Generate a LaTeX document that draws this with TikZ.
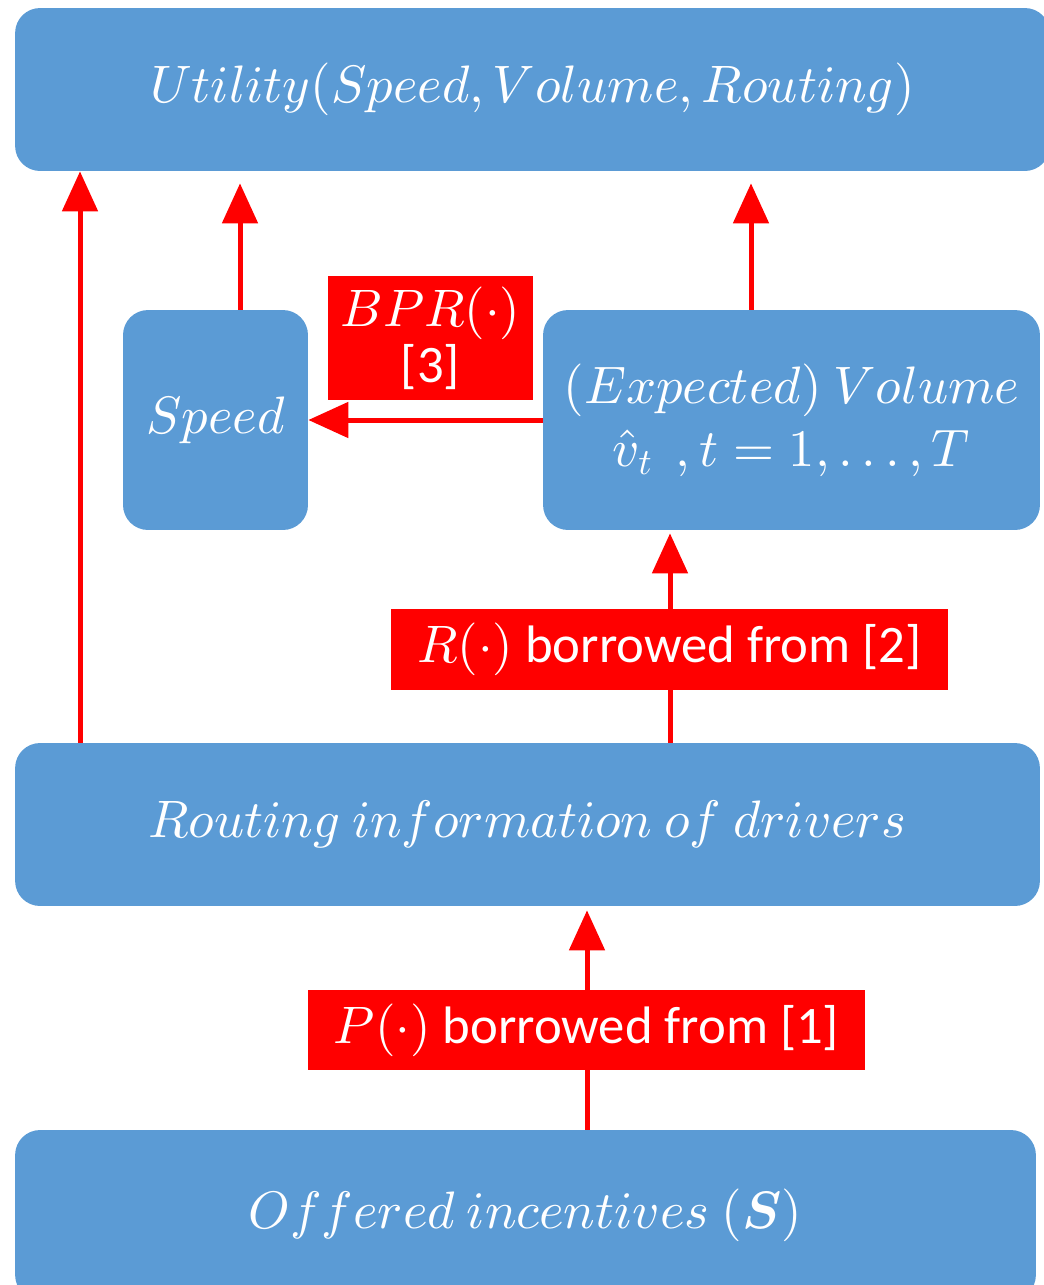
\documentclass[tikz,border=0pt]{standalone}
\usepackage{amsmath}
\usepackage{amssymb}
\usepackage{fontspec}
\setmainfont{Carlito}
\usetikzlibrary{arrows.meta}
\DeclareFontShape{OML}{cmm}{m}{it}{<->cmmi10}{}
\DeclareFontShape{OML}{cmm}{b}{it}{<->cmmib10}{}
\DeclareFontShape{OMS}{cmsy}{m}{n}{<->cmsy10}{}
\DeclareFontShape{OT1}{cmr}{m}{n}{<->cmr10}{}
\definecolor{boxblue}{HTML}{5B9BD5}
\definecolor{flowred}{HTML}{FF0000}
\tikzset{
  block/.style={rectangle, rounded corners=0.5cm, fill=boxblue, text=white,
    inner sep=0pt, align=center, font=\fontsize{30}{36}\selectfont},
  tag/.style={rectangle, fill=flowred, text=white, inner sep=0pt,
    align=center, font=\fontsize{30}{36}\selectfont},
  flow/.style={draw=flowred, line width=0.1cm,
    -{Triangle[length=0.8cm, width=0.7cm]}},
}

\begin{document}
\begin{tikzpicture}[x=0.02cm, y=-0.02cm]
  \useasboundingbox (0,0) rectangle (1044,1285);
  \node (util) [block, minimum width=20.7cm, minimum height=3.26cm]
    at (532.5,89.5) {$Utility(Speed,Volume,Routing)$};
  \node (speed) [block, minimum width=3.7cm, minimum height=4.4cm]
    at (215.5,420) {$Speed$};
  \node (vol) [block, minimum width=9.94cm, minimum height=4.4cm]
    at (791.5,420) {$(Expected)\ Volume$\\$\hat{v}_t\;\,, t=1,\ldots,T$};
  \node (route) [block, minimum width=20.5cm, minimum height=3.26cm]
    at (527.5,824.5) {$Routing\ information\ of\ drivers$};
  \node (offer) [block, minimum width=20.42cm, minimum height=3.4cm]
    at (525.5,1215) {$Offered\ incentives\ (\boldsymbol{S})$};

  \coordinate (xa) at (80,0);
  \coordinate (xs) at (240,0);
  \coordinate (xv) at (751,0);
  \coordinate (xr) at (670,0);
  \coordinate (xp) at (587,0);

  \draw[flow] (route.north -| xa) -- (util.south -| xa);
  \draw[flow, shorten >=0.24cm] (speed.north -| xs) -- (util.south -| xs);
  \draw[flow, shorten >=0.24cm] (vol.north -| xv) -- (util.south -| xv);
  \draw[flow] (vol.west) -- (speed.east);
  \draw[flow, shorten >=0.06cm] (route.north -| xr) -- (vol.south -| xr);
  \draw[flow, shorten >=0.08cm] (offer.north -| xp) -- (route.south -| xp);

  \node (bpr) [tag, minimum width=4.1cm, minimum height=2.48cm]
    at (430.5,338) {$BPR(\cdot)$\\[-4pt]{[3]}};
  \node (rtag) [tag, minimum width=11.14cm, minimum height=1.62cm]
    at (669.5,649.5) {$R(\cdot)$ borrowed from [2]};
  \node (ptag) [tag, minimum width=11.14cm, minimum height=1.6cm]
    at (586.5,1030) {$P(\cdot)$ borrowed from [1]};
\end{tikzpicture}
\end{document}
